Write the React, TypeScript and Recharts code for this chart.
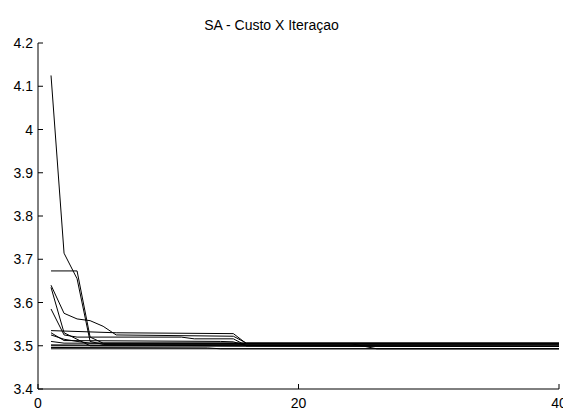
import React from 'react';
import { LineChart, Line, XAxis, YAxis } from 'recharts';

// iteration / cost breakpoints, one array per SA run
const run1: [number, number][] = [[1, 4.125], [2, 3.714], [3, 3.655], [4, 3.51], [5, 3.503], [40, 3.503]];
const run2: [number, number][] = [[1, 3.673], [3, 3.673], [4, 3.52], [5, 3.506], [40, 3.506]];
const run3: [number, number][] = [[1, 3.64], [2, 3.575], [3, 3.562], [4, 3.558], [5, 3.545], [6, 3.525], [15, 3.522], [16, 3.506], [40, 3.506]];
const run4: [number, number][] = [[1, 3.535], [6, 3.53], [15, 3.528], [16, 3.505], [40, 3.505]];
const run5: [number, number][] = [[1, 3.635], [2, 3.53], [3, 3.515], [4, 3.5], [40, 3.499]];
const run6: [number, number][] = [[1, 3.585], [2, 3.525], [3, 3.52], [11, 3.52], [12, 3.516], [15, 3.516], [16, 3.5], [40, 3.499]];
const run7: [number, number][] = [[1, 3.53], [2, 3.512], [14, 3.51], [15, 3.509], [16, 3.5], [40, 3.499]];
const run8: [number, number][] = [[1, 3.51], [2, 3.506], [24, 3.505], [25, 3.499], [40, 3.499]];
const run9: [number, number][] = [[1, 3.5], [25, 3.499], [26, 3.493], [40, 3.493]];
const run10: [number, number][] = [[1, 3.496], [13, 3.495], [14, 3.493], [40, 3.493]];
const run11: [number, number][] = [[1, 3.493], [40, 3.493]];
const run12: [number, number][] = [[1, 3.502], [16, 3.5], [40, 3.499]];
const run13: [number, number][] = [[1, 3.525], [2, 3.515], [3, 3.51], [4, 3.506], [40, 3.506]];

const runs = [run1, run2, run3, run4, run5, run6, run7, run8, run9, run10, run11, run12, run13];

const xTicks = [0, 20, 40];
const yTicks = [3.4, 3.5, 3.6, 3.7, 3.8, 3.9, 4, 4.1, 4.2];
const title = 'SA - Custo X Iteraçao';

const FONT = 'Arial, "Liberation Sans", sans-serif';

const YTick = (props: any) => {
  const { x, y, payload } = props;
  return (
    <g>
      <line x1={x + 5} y1={y} x2={x + 10} y2={y} stroke="#000" />
      <text x={x} y={y} dy={5} textAnchor="end" fontSize={14} fontFamily={FONT} fill="#000">
        {String(payload.value)}
      </text>
    </g>
  );
};

const XTick = (props: any) => {
  const { x, y, payload } = props;
  return (
    <g>
      <line x1={x} y1={y - 8} x2={x} y2={y - 13} stroke="#000" />
      <text x={x} y={y} dy={11} textAnchor="middle" fontSize={14} fontFamily={FONT} fill="#000">
        {String(payload.value)}
      </text>
    </g>
  );
};

export default function App() {
  return (
    <div style={{ position: 'fixed', left: 0, top: 0, width: 563, height: 408, overflow: 'hidden', background: '#fff' }}>
      <div
        style={{
          position: 'absolute',
          left: 0,
          width: 543,
          top: 18,
          textAlign: 'center',
          fontFamily: FONT,
          fontSize: 14,
          lineHeight: '14px',
        }}
      >
        {title}
      </div>
      <LineChart width={600} height={408} margin={{ top: 43, right: 41, bottom: 0, left: 0 }}>
        <XAxis
          type="number"
          dataKey="it"
          domain={[0, 40]}
          ticks={xTicks}
          height={19}
          tickSize={0}
          tickMargin={8}
          tick={<XTick />}
          axisLine={{ stroke: '#000' }}
          allowDuplicatedCategory={false}
        />
        <YAxis
          type="number"
          domain={[3.4, 4.2]}
          ticks={yTicks}
          width={38}
          tickSize={0}
          tickMargin={5}
          tick={<YTick />}
          axisLine={{ stroke: '#000' }}
          interval={0}
        />
        {runs.map((r, i) => (
          <Line
            key={i}
            data={r.map(([it, cost]) => ({ it, cost }))}
            dataKey="cost"
            type="linear"
            stroke="#000"
            strokeWidth={1}
            dot={false}
            isAnimationActive={false}
          />
        ))}
      </LineChart>
    </div>
  );
}
